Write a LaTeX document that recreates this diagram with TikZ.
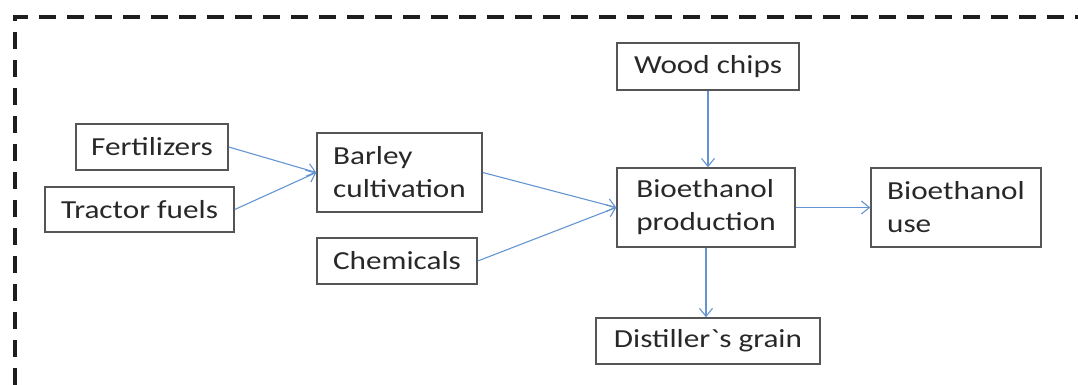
\documentclass[tikz,border=0pt]{standalone}
\usepackage{fontspec}
\setmainfont{Carlito}[FakeStretch=1.2]
\newfontfamily\rawfont{Carlito}[FakeStretch=1.2, Ligatures=TeXOff]
\usetikzlibrary{arrows.meta}
\definecolor{arrowblue}{RGB}{100,149,210}
\definecolor{boxgray}{RGB}{85,85,85}
\definecolor{txtgray}{RGB}{40,40,40}
\definecolor{dashgray}{RGB}{30,30,30}
\tikzset{
  box/.style={draw=boxgray, line width=1.5pt, rectangle, align=left, inner xsep=13pt,
    text=txtgray, font=\fontsize{26}{33}\selectfont},
  flow/.style={draw=arrowblue, line width=1.1pt, -{Straight Barb[length=8pt,width=13pt,line width=1.1pt]}},
  frame/.style={draw=dashgray, line width=4pt, dash pattern=on 17pt off 11pt}
}
\begin{document}
\begin{tikzpicture}[x=1pt,y=1pt]
\useasboundingbox (0,0) rectangle (1078,385);
\coordinate (fb) at (15,0);
\coordinate (fc) at (15,368);
\coordinate (fr) at (1078,368);
\draw[frame] (fb) -- (fc) -- (fr);
\node[box, minimum width=152pt, minimum height=46pt] (fert) at (152,238) {Fertilizers};
\node[box, minimum width=189pt, minimum height=45pt] (tract) at (139.5,175.5) {Tractor fuels};
\node[box, minimum width=165pt, minimum height=79pt] (barley) at (399.5,212.5) {Barley\\cultivation};
\node[box, minimum width=160pt, minimum height=46pt] (chem) at (397,124) {Chemicals};
\node[box, minimum width=182pt, minimum height=47pt] (wood) at (708,318.5) {Wood chips};
\node[box, minimum width=178pt, minimum height=79pt] (prod) at (706,177.5) {Bioethanol\\production};
\node[box, minimum width=170pt, minimum height=79pt] (use) at (956,177.5) {Bioethanol\\use};
\node[box, minimum width=224pt, minimum height=46pt] (dist) at (708,44) {Distiller{\rawfont\char"60}s grain};
\draw[flow] (fert.east) -- (barley.west);
\draw[flow] (tract.east) -- (barley.west);
\draw[flow] (barley.east) -- (prod.west);
\draw[flow] (chem.east) -- (prod.west);
\draw[flow] (wood.south) -- (wood.south |- prod.north);
\draw[flow] (prod.east) -- (use.west);
\draw[flow] (prod.south) -- (prod.south |- dist.north);
\end{tikzpicture}
\end{document}
